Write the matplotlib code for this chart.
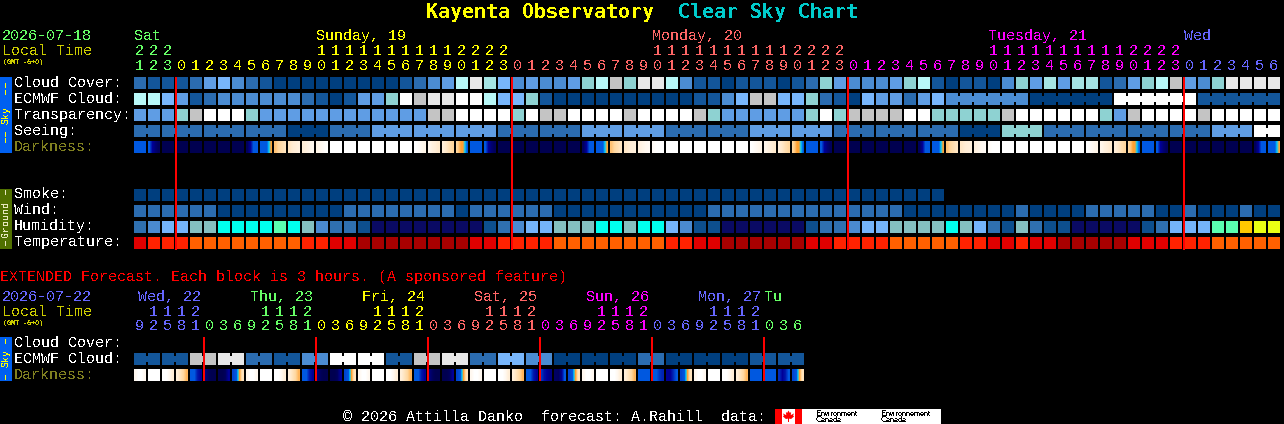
import numpy as np
import matplotlib
matplotlib.use("Agg")
import matplotlib.pyplot as plt
from matplotlib.colors import LinearSegmentedColormap
from matplotlib.patches import Rectangle

plt.rcParams["text.hinting"] = "native"
plt.rcParams["text.hinting_factor"] = 1

# pixel layout of the chart
X0 = 134
PITCH = 14
CELL = 12
FONT = "Liberation Mono"

GREEN = "#66ff66"
YELLOW = "#ffff00"
PINK = "#ff6666"
MAGENTA = "#ff00ff"
BLUE = "#6666ff"
OLIVE = "#cccc00"
DIM = "#808020"

# colour scales
CLOUD = ["#003f7f", "#13569a", "#2b6cb0", "#4b8cd2", "#5f9de4", "#78b6fb",
         "#8ed2d2", "#a5e4e4", "#b8f8f8", "#c4c4c4", "#e8e8e8", "#ffffff"]
HUMID = ["#0a0a64", "#0d4f8e", "#2f70b0", "#4a8ad0", "#74b4fa", "#84c0c0",
         "#00ffee", "#5affb0", "#eaff14", "#ffc800"]
TEMP = ["#a80000", "#e00000", "#ff2200", "#ff6000"]
dark_cmap = LinearSegmentedColormap.from_list("dark", [
    (0 / 7, "#000050"), (1 / 7, "#000098"), (2 / 7, "#0058e0"),
    (3 / 7, "#00d0ff"), (4 / 7, "#ffa030"), (5 / 7, "#ffd8a0"),
    (6 / 7, "#ffeed8"), (7 / 7, "#ffffff")])

# main forecast, one block per hour
hours = [21, 22, 23] + list(range(24)) * 3 + list(range(7))
hour_colors = [GREEN] * 3 + [YELLOW] * 24 + [PINK] * 24 + [MAGENTA] * 24 + [BLUE] * 7
day_labels = [(0, "Sat", GREEN), (13, "Sunday, 19", YELLOW), (37, "Monday, 20", PINK),
              (61, "Tuesday, 21", MAGENTA), (75, "Wed", BLUE)]
midnights = [3, 27, 51, 75]

cloud_cover = [2, 1, 1, 1, 2, 4, 5, 3, 2, 1, 0, 0, 0, 0, 0, 0, 0, 0, 0, 1, 2,
               3, 4, 8, 10, 7, 5, 3, 4, 3, 3, 4, 6, 8, 9, 6, 10, 10, 8, 3, 1, 1, 0, 1, 1, 1, 0, 1, 2, 6, 4, 3,
               3, 3, 4, 6, 8, 1, 0, 1, 1, 0, 3, 6, 4, 7, 4, 7, 7, 1, 2, 4, 6, 8, 9, 4, 3, 6, 10, 10, 10, 10]
ecmwf = [8, 8, 5, 4, 1, 2, 3, 3, 3, 3, 3, 3, 2, 1, 0, 1, 4, 4, 6, 11, 9,
         10, 10, 11, 11, 8, 5, 5, 6, 1, 0, 0, 0, 0, 0, 0, 0, 0, 0, 0, 1, 1, 3, 5, 9, 9, 5, 5, 6, 2, 1, 0,
         5, 4, 4, 2, 4, 5, 3, 3, 3, 3, 3, 3, 0, 0, 0, 0, 0, 0, 11, 11, 11, 11, 11, 11, 1, 1, 1, 1, 1, 1]
transparency = [4, 4, 4, 6, 9, 11, 11, 11, 6, 4, 4, 4, 4, 4, 4, 4, 4, 4, 4, 4, 4,
                9, 9, 11, 11, 11, 11, 6, 11, 9, 9, 11, 11, 11, 11, 9, 11, 11, 11, 11, 9, 6, 4, 4, 4, 4, 4, 4, 6, 11, 6, 9,
                9, 9, 9, 11, 11, 6, 6, 6, 6, 6, 9, 11, 11, 11, 11, 11, 11, 6, 4, 9, 11, 11, 11, 11, 9, 11, 11, 11, 11, 11]
seeing = [2, 2, 2, 2, 2, 2, 2, 2, 2, 2, 2, 0, 0, 0, 2, 2, 2, 4, 4, 4, 4,
          4, 4, 4, 4, 4, 2, 2, 2, 2, 2, 2, 4, 4, 4, 4, 4, 4, 2, 2, 2, 2, 2, 2, 4, 4, 4, 4, 4, 4, 2, 2,
          2, 2, 2, 2, 2, 2, 2, 0, 0, 0, 6, 6, 6, 2, 2, 2, 2, 2, 2, 2, 2, 2, 2, 2, 2, 4, 4, 4, 11, 11]
smoke = [0] * 58
wind = [2, 2, 2, 2, 2, 2, 0, 0, 0, 0, 0, 0, 0, 0, 0, 2, 2, 2, 2, 2, 2,
        2, 2, 0, 2, 2, 2, 2, 2, 2, 0, 0, 0, 0, 0, 0, 0, 0, 0, 0, 0, 2, 2, 2, 2, 2, 2, 2, 2, 2, 2, 2,
        2, 2, 2, 0, 0, 0, 0, 0, 0, 0, 0, 2, 0, 0, 0, 0, 2, 2, 2, 2, 2, 0, 0, 2, 0, 0, 0, 2, 0, 0]
humidity = [2, 3, 4, 4, 5, 5, 6, 6, 6, 6, 7, 6, 5, 3, 2, 2, 1, 0, 0, 0, 0,
            0, 0, 0, 0, 1, 2, 3, 4, 4, 5, 5, 5, 6, 6, 5, 6, 6, 4, 3, 1, 1, 0, 0, 0, 0, 0, 0, 1, 2, 2, 3,
            4, 4, 5, 5, 5, 5, 6, 5, 4, 2, 1, 5, 2, 1, 1, 0, 0, 0, 0, 0, 1, 2, 4, 4, 4, 7, 7, 9, 8, 8]
temperature = [1, 2, 2, 2, 3, 3, 3, 3, 3, 3, 3, 3, 2, 2, 1, 1, 0, 0, 0, 0, 0,
               0, 0, 0, 1, 1, 2, 2, 2, 2, 3, 3, 3, 3, 3, 3, 3, 3, 2, 2, 1, 1, 0, 0, 0, 0, 0, 0, 1, 1, 2, 2,
               2, 2, 3, 3, 3, 3, 3, 2, 2, 1, 1, 2, 1, 1, 0, 0, 0, 0, 0, 1, 1, 1, 2, 2, 2, 3, 3, 3, 3, 3]

# darkness blocks, colour scale stops read left to right across each block
W = (7, 7, 7, 7)
N = (0, 0, 0, 0)
B = (2, 2, 2, 2)
FADE = (2, 1, 0.5, 0.2)
RISE = (0.2, 1, 2, 2)
DAWN = (2, 2, 2, 2, 3, 4)
DUSK = (5, 4.6, 4, 4, 3, 2)
darkness = [B, FADE, N, N, N, N, N, N, RISE, DAWN,
            (4.6, 5, 5.2, 5.5), (5.6, 5.9, 6, 6.2), (6, 6.2, 6.4, 6.6), (6.4, 6.6, 6.8, 7), W, W, W, W, W, W,
            (7, 6.8, 6.6, 6.4), (6.5, 6.2, 6, 5.8), (6, 5.7, 5.3, 5), DUSK,
            B, FADE, N, N, N, N, N, N, RISE, DAWN,
            (4.6, 5, 5.3, 5.6), (5.7, 5.9, 6, 6.1), (6.2, 6.4, 6.6, 6.7), (6.8, 7, 7, 7), W, W, W, W, W, W,
            (7, 6.8, 6.6, 6.4), (6.5, 6.2, 6, 5.8), (6, 5.7, 5.3, 5), DUSK,
            B, FADE, N, N, N, N, N, N, RISE, DAWN,
            (4.6, 5, 5.3, 5.6), (5.7, 5.9, 6, 6.1), (6.2, 6.4, 6.6, 6.7), (6.8, 7, 7, 7), W, W, W, W, W, W,
            (7, 6.8, 6.6, 6.4), (6.5, 6.2, 6, 5.8), (6, 5.7, 5.3, 5), DUSK,
            B, FADE, N, N, N, N, N, N, RISE, DAWN]

# extended forecast, one block per 3 hours
ext_hours = [9, 12, 15, 18, 21] + [0, 3, 6, 9, 12, 15, 18, 21] * 5 + [0, 3, 6]
ext_hour_colors = [BLUE] * 5 + [GREEN] * 8 + [YELLOW] * 8 + [PINK] * 8 + [MAGENTA] * 8 + [BLUE] * 8 + [GREEN] * 3
ext_day_labels = [(0, "Wed, 22", BLUE), (8, "Thu, 23", GREEN), (16, "Fri, 24", YELLOW),
                  (24, "Sat, 25", PINK), (32, "Sun, 26", MAGENTA), (40, "Mon, 27", BLUE)]
ext_midnights = [5, 13, 21, 29, 37, 45]
ext_ecmwf = [1, 1, 1, 1, 9, 9, 10, 10, 2, 2, 1, 1, 3, 3, 11, 11, 11, 11, 1, 1, 9, 9, 10, 10,
             2, 2, 5, 5, 3, 3, 0, 0, 0, 0, 0, 0, 2, 2, 0, 0, 0, 0, 0, 0, 1, 1, 1, 1]
E_OFF = (6, 5.5, 5, 4.4)
E_DIM = (7, 7, 6.6, 6)
E_IN = (6.6, 7, 7, 6.6)
E_BLUE = (2, 2, 1.3, 1)
E_NAVY = (0.6, 0.2, 0, 0)
E_RISE = (0, 0, 0.2, 1)
E_DAWN = (1.8, 2, 4, 5.5)
ext_darkness = [E_IN, W, E_DIM, E_OFF, E_BLUE, E_NAVY, E_RISE, E_DAWN,
                E_IN, W, E_DIM, E_OFF, E_BLUE, E_NAVY, E_RISE, E_DAWN,
                E_IN, W, E_DIM, E_OFF, E_BLUE, E_NAVY, E_RISE, E_DAWN,
                E_IN, W, E_DIM, E_OFF, E_BLUE, (1.6, 1.2, 1, 0.7), (0.3, 0.2, 0.8, 2), E_DAWN,
                E_IN, W, E_DIM, E_OFF, B, (2, 2, 1.6, 1.4), (1, 1, 1.5, 2), E_DAWN,
                E_IN, W, E_DIM, E_OFF, B, B, (1.5, 1, 1.3, 2), E_DAWN]


fig = plt.figure(figsize=(12.84, 4.24), dpi=100, facecolor="black")
ax = fig.add_axes([0, 0, 1, 1])
ax.set_facecolor("black")
ax.axis("off")


def rect(x, y, w, h, color, zorder=2):
    ax.add_patch(Rectangle((x, y), w, h, facecolor=color, edgecolor="none", snap=False,
                           linewidth=0, zorder=zorder))


def label(x, y, s, color="white", size=10.8, **kw):
    kw.setdefault("family", FONT)
    ax.text(x, y, s, color=color, fontsize=size, va="baseline", antialiased=False, **kw)


def draw_row(values, palette, y, joined=None):
    """Row of blocks, joined says which blocks bridge to the next one"""
    for i, v in enumerate(values):
        x = X0 + i * PITCH
        rect(x, y, CELL, CELL, palette[v])
        if joined is not None and i < len(values) - 1 and joined[i]:
            rect(x + CELL, y + 3, PITCH - CELL, CELL - 6, palette[v])


def draw_darkness(values, y):
    for i, stops in enumerate(values):
        x = X0 + i * PITCH
        ax.imshow([stops], cmap=dark_cmap, vmin=0, vmax=7, aspect="auto",
                  interpolation="bilinear", extent=(x, x + CELL, y + CELL, y), zorder=2)


def draw_hours(hrs, colors, y_tens, y_ones):
    for i, (h, c) in enumerate(zip(hrs, colors)):
        x = X0 + i * PITCH + 5.5
        if h >= 10:
            label(x, y_tens, str(h // 10), c, ha="center")
        label(x, y_ones, str(h % 10), c, ha="center")


def draw_side(y0, y1, color, name, text_color, name_y, dash_ys):
    rect(0, y0, 12, y1 - y0, color)
    ax.text(6, name_y, name, color=text_color, fontsize=7.2, family=FONT, rotation=90,
            ha="center", va="center", antialiased=False, zorder=3)
    for d in dash_ys:
        rect(5, d, 1, 5, text_color, zorder=3)


# title
label(426, 18, "Kayenta Observatory", YELLOW, 14.4, family="DejaVu Sans Mono", weight="bold")
label(678, 18, "Clear Sky Chart", "#00cccc", 14.4, family="DejaVu Sans Mono", weight="bold")

# main header
label(2, 40, "2026-07-18", GREEN)
label(2, 55, "Local Time", OLIVE)
label(3, 64, "(GMT -6+0)", OLIVE, 5.4, weight="bold")
for i, s, c in day_labels:
    label(X0 + i * PITCH, 40, s, c)
draw_hours(hours, hour_colors, 55, 70)

# main rows
for s, y, c in [("Cloud Cover:", 87, "white"), ("ECMWF Cloud:", 103, "white"),
                ("Transparency:", 119, "white"), ("Seeing:", 135, "white"),
                ("Darkness:", 151, DIM), ("Smoke:", 198, "white"), ("Wind:", 214, "white"),
                ("Humidity:", 230, "white"), ("Temperature:", 246, "white")]:
    label(14, y, s, c)

ecmwf_joined = [i >= 58 and (i - 58) % 6 != 5 for i in range(len(ecmwf))]
seeing_joined = [(i - 2) % 3 != 2 for i in range(len(seeing))]
draw_row(cloud_cover, CLOUD, 77)
draw_row(ecmwf, CLOUD, 93, ecmwf_joined)
draw_row(transparency, CLOUD, 109)
draw_row(seeing, CLOUD, 125, seeing_joined)
draw_darkness(darkness, 141)
draw_row(smoke, CLOUD, 189)
draw_row(wind, CLOUD, 205)
draw_row(humidity, HUMID, 221)
draw_row(temperature, TEMP, 237)
for i in midnights:
    rect(X0 + i * PITCH - 1, 77, 2, 173, "#ff0000", zorder=4)

draw_side(77, 153, "#0060f0", "Sky", YELLOW, 115, [83, 90, 132, 138])
draw_side(189, 249, "#507000", "Ground", "#e8e8c0", 219, [190, 241])

# extended section
label(0, 281, "EXTENDED Forecast. Each block is 3 hours. (A sponsored feature)", "#ff0000")
label(2, 301, "2026-07-22", BLUE)
label(2, 316, "Local Time", OLIVE)
label(3, 325, "(GMT -6+0)", OLIVE, 5.4, weight="bold")
for i, s, c in ext_day_labels:
    label(X0 + i * PITCH + 4.5, 301, s, c)
label(764, 301, "Tu", GREEN)
draw_hours(ext_hours, ext_hour_colors, 316, 330)

label(14, 347, "Cloud Cover:")
label(14, 363, "ECMWF Cloud:")
label(14, 379, "Darkness:", DIM)
ext_joined = [i % 2 == 0 for i in range(len(ext_ecmwf))]
draw_row(ext_ecmwf, CLOUD, 353, ext_joined)
draw_darkness(ext_darkness, 369)
for i in ext_midnights:
    rect(X0 + i * PITCH - 1, 337, 2, 44, "#ff0000", zorder=4)
draw_side(337, 381, "#0060f0", "Sky", YELLOW, 358, [339, 375])

# footer and logo
label(343, 421, "\u00a9 2026 Attilla Danko  forecast: A.Rahill  data:")
rect(775, 409, 166, 15, "white")
rect(775, 409, 7, 15, "#ff0000", zorder=3)
rect(795, 409, 7, 15, "#ff0000", zorder=3)
leaf_x = np.array([0, 1.2, 2.6, 2.2, 5.5, 4.6, 5.6, 2.6, 0.5, 0.5, -0.5, -0.5, -2.6, -5.6, -4.6, -5.5, -2.2, -2.6, -1.2])
leaf_y = np.array([-5.5, -3.2, -3.8, -0.8, -2.6, -0.4, 0.4, 3, 2.6, 6, 6, 2.6, 3, 0.4, -0.4, -2.6, -0.8, -3.8, -3.2])
ax.fill(788.5 + leaf_x, 416 + leaf_y, color="#ff0000", linewidth=0, zorder=3)
for x, word in [(816, "Environment"), (881, "Environnement")]:
    ax.text(x, 416, word, color="black", fontsize=5.6, family="Liberation Sans", va="baseline",
            antialiased=False, zorder=3)
    ax.text(x, 422.5, "Canada", color="black", fontsize=5.6, family="Liberation Sans", va="baseline",
            antialiased=False, zorder=3)

ax.set_xlim(0, 1284)
ax.set_ylim(424, 0)
fig.savefig("out.png", dpi=100, facecolor="black")
